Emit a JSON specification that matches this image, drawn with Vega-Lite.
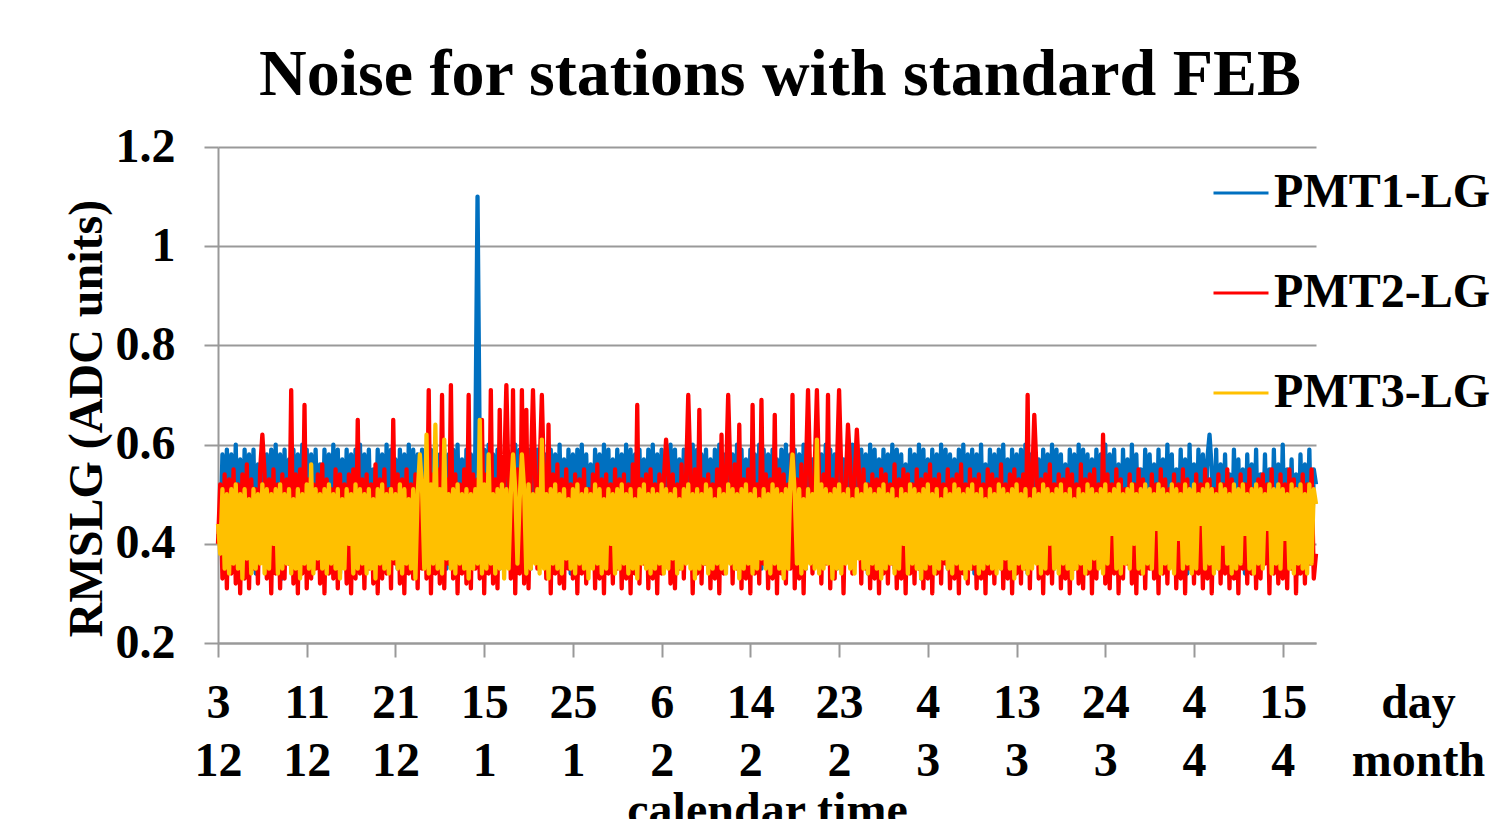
{"$schema":"https://vega.github.io/schema/vega-lite/v6.json","width":1098,"height":496,"autosize":{"type":"none"},"padding":{"left":218,"top":147,"right":193,"bottom":176},"background":"white","config":{"view":{"stroke":null},"font":"Liberation Serif"},
"title":{"text":"Noise for stations with standard FEB","font":"Liberation Serif","fontSize":66,"fontWeight":"bold","color":"black","anchor":"middle","frame":"group","baseline":"alphabetic","offset":50,"dx":13,"dy":88},
"data":{"values":[
{"i":0,"p1":0.42,"p2":0.40,"p3":0.44},{"i":1,"p1":0.40,"p2":0.52,"p3":0.38},{"i":2,"p1":0.58,"p2":0.33,"p3":0.51},{"i":3,"p1":0.36,"p2":0.54,"p3":0.35},{"i":4,"p1":0.59,"p2":0.31,"p3":0.50},{"i":5,"p1":0.39,"p2":0.53,"p3":0.34},{"i":6,"p1":0.58,"p2":0.34,"p3":0.51},{"i":7,"p1":0.37,"p2":0.55,"p3":0.36},{"i":8,"p1":0.60,"p2":0.32,"p3":0.52},{"i":9,"p1":0.35,"p2":0.52,"p3":0.35},
{"i":10,"p1":0.57,"p2":0.30,"p3":0.50},{"i":11,"p1":0.38,"p2":0.54,"p3":0.33},{"i":12,"p1":0.59,"p2":0.33,"p3":0.51},{"i":13,"p1":0.41,"p2":0.56,"p3":0.37},{"i":14,"p1":0.58,"p2":0.31,"p3":0.49},{"i":15,"p1":0.37,"p2":0.53,"p3":0.34},{"i":16,"p1":0.59,"p2":0.35,"p3":0.51},{"i":17,"p1":0.34,"p2":0.51,"p3":0.35},{"i":18,"p1":0.56,"p2":0.32,"p3":0.50},{"i":19,"p1":0.38,"p2":0.55,"p3":0.36},
{"i":20,"p1":0.59,"p2":0.62,"p3":0.52},{"i":21,"p1":0.40,"p2":0.54,"p3":0.34},{"i":22,"p1":0.58,"p2":0.33,"p3":0.51},{"i":23,"p1":0.36,"p2":0.53,"p3":0.35},{"i":24,"p1":0.59,"p2":0.30,"p3":0.50},{"i":25,"p1":0.39,"p2":0.55,"p3":0.40},{"i":26,"p1":0.60,"p2":0.34,"p3":0.51},{"i":27,"p1":0.37,"p2":0.52,"p3":0.34},{"i":28,"p1":0.58,"p2":0.31,"p3":0.52},{"i":29,"p1":0.33,"p2":0.54,"p3":0.35},
{"i":30,"p1":0.59,"p2":0.33,"p3":0.50},{"i":31,"p1":0.38,"p2":0.53,"p3":0.36},{"i":32,"p1":0.57,"p2":0.36,"p3":0.51},{"i":33,"p1":0.40,"p2":0.71,"p3":0.34},{"i":34,"p1":0.59,"p2":0.32,"p3":0.49},{"i":35,"p1":0.36,"p2":0.54,"p3":0.35},{"i":36,"p1":0.58,"p2":0.30,"p3":0.51},{"i":37,"p1":0.39,"p2":0.55,"p3":0.33},{"i":38,"p1":0.60,"p2":0.34,"p3":0.50},{"i":39,"p1":0.37,"p2":0.68,"p3":0.36},
{"i":40,"p1":0.59,"p2":0.31,"p3":0.52},{"i":41,"p1":0.38,"p2":0.53,"p3":0.35},{"i":42,"p1":0.58,"p2":0.33,"p3":0.56},{"i":43,"p1":0.35,"p2":0.52,"p3":0.34},{"i":44,"p1":0.59,"p2":0.35,"p3":0.51},{"i":45,"p1":0.41,"p2":0.54,"p3":0.37},{"i":46,"p1":0.56,"p2":0.32,"p3":0.50},{"i":47,"p1":0.37,"p2":0.56,"p3":0.35},{"i":48,"p1":0.59,"p2":0.30,"p3":0.51},{"i":49,"p1":0.39,"p2":0.53,"p3":0.34},
{"i":50,"p1":0.58,"p2":0.34,"p3":0.52},{"i":51,"p1":0.36,"p2":0.51,"p3":0.36},{"i":52,"p1":0.60,"p2":0.33,"p3":0.50},{"i":53,"p1":0.38,"p2":0.55,"p3":0.35},{"i":54,"p1":0.59,"p2":0.31,"p3":0.51},{"i":55,"p1":0.34,"p2":0.54,"p3":0.33},{"i":56,"p1":0.57,"p2":0.36,"p3":0.49},{"i":57,"p1":0.40,"p2":0.52,"p3":0.35},{"i":58,"p1":0.59,"p2":0.32,"p3":0.51},{"i":59,"p1":0.37,"p2":0.54,"p3":0.40},
{"i":60,"p1":0.58,"p2":0.30,"p3":0.50},{"i":61,"p1":0.39,"p2":0.55,"p3":0.34},{"i":62,"p1":0.59,"p2":0.33,"p3":0.52},{"i":63,"p1":0.36,"p2":0.65,"p3":0.35},{"i":64,"p1":0.60,"p2":0.34,"p3":0.51},{"i":65,"p1":0.38,"p2":0.53,"p3":0.36},{"i":66,"p1":0.58,"p2":0.31,"p3":0.50},{"i":67,"p1":0.35,"p2":0.54,"p3":0.34},{"i":68,"p1":0.59,"p2":0.35,"p3":0.51},{"i":69,"p1":0.41,"p2":0.52,"p3":0.35},
{"i":70,"p1":0.55,"p2":0.32,"p3":0.49},{"i":71,"p1":0.37,"p2":0.56,"p3":0.33},{"i":72,"p1":0.59,"p2":0.30,"p3":0.51},{"i":73,"p1":0.39,"p2":0.53,"p3":0.36},{"i":74,"p1":0.58,"p2":0.33,"p3":0.52},{"i":75,"p1":0.36,"p2":0.55,"p3":0.35},{"i":76,"p1":0.60,"p2":0.34,"p3":0.50},{"i":77,"p1":0.38,"p2":0.51,"p3":0.34},{"i":78,"p1":0.59,"p2":0.31,"p3":0.51},{"i":79,"p1":0.40,"p2":0.65,"p3":0.37},
{"i":80,"p1":0.57,"p2":0.36,"p3":0.50},{"i":81,"p1":0.35,"p2":0.54,"p3":0.35},{"i":82,"p1":0.59,"p2":0.32,"p3":0.52},{"i":83,"p1":0.38,"p2":0.53,"p3":0.34},{"i":84,"p1":0.58,"p2":0.30,"p3":0.51},{"i":85,"p1":0.37,"p2":0.55,"p3":0.36},{"i":86,"p1":0.60,"p2":0.34,"p3":0.49},{"i":87,"p1":0.39,"p2":0.52,"p3":0.35},{"i":88,"p1":0.59,"p2":0.33,"p3":0.51},{"i":89,"p1":0.34,"p2":0.54,"p3":0.33},
{"i":90,"p1":0.58,"p2":0.31,"p3":0.50},{"i":91,"p1":0.38,"p2":0.56,"p3":0.58},{"i":92,"p1":0.59,"p2":0.35,"p3":0.51},{"i":93,"p1":0.40,"p2":0.53,"p3":0.35},{"i":94,"p1":0.57,"p2":0.33,"p3":0.62},{"i":95,"p1":0.37,"p2":0.71,"p3":0.34},{"i":96,"p1":0.59,"p2":0.30,"p3":0.52},{"i":97,"p1":0.36,"p2":0.54,"p3":0.36},{"i":98,"p1":0.60,"p2":0.34,"p3":0.64},{"i":99,"p1":0.39,"p2":0.55,"p3":0.35},
{"i":100,"p1":0.58,"p2":0.32,"p3":0.51},{"i":101,"p1":0.38,"p2":0.70,"p3":0.34},{"i":102,"p1":0.59,"p2":0.31,"p3":0.61},{"i":103,"p1":0.35,"p2":0.53,"p3":0.37},{"i":104,"p1":0.58,"p2":0.36,"p3":0.50},{"i":105,"p1":0.40,"p2":0.72,"p3":0.35},{"i":106,"p1":0.59,"p2":0.33,"p3":0.51},{"i":107,"p1":0.37,"p2":0.54,"p3":0.34},{"i":108,"p1":0.60,"p2":0.30,"p3":0.52},{"i":109,"p1":0.38,"p2":0.52,"p3":0.36},
{"i":110,"p1":0.57,"p2":0.34,"p3":0.50},{"i":111,"p1":0.36,"p2":0.55,"p3":0.35},{"i":112,"p1":0.59,"p2":0.32,"p3":0.51},{"i":113,"p1":0.39,"p2":0.70,"p3":0.33},{"i":114,"p1":0.58,"p2":0.31,"p3":0.50},{"i":115,"p1":0.37,"p2":0.54,"p3":0.35},{"i":116,"p1":0.59,"p2":0.35,"p3":0.51},{"i":117,"p1":1.10,"p2":0.53,"p3":0.36},{"i":118,"p1":0.58,"p2":0.33,"p3":0.65},{"i":119,"p1":0.38,"p2":0.65,"p3":0.34},
{"i":120,"p1":0.59,"p2":0.30,"p3":0.52},{"i":121,"p1":0.36,"p2":0.54,"p3":0.35},{"i":122,"p1":0.60,"p2":0.34,"p3":0.58},{"i":123,"p1":0.39,"p2":0.71,"p3":0.36},{"i":124,"p1":0.58,"p2":0.32,"p3":0.50},{"i":125,"p1":0.37,"p2":0.53,"p3":0.34},{"i":126,"p1":0.59,"p2":0.31,"p3":0.51},{"i":127,"p1":0.35,"p2":0.67,"p3":0.35},{"i":128,"p1":0.57,"p2":0.36,"p3":0.52},{"i":129,"p1":0.40,"p2":0.54,"p3":0.33},
{"i":130,"p1":0.59,"p2":0.72,"p3":0.51},{"i":131,"p1":0.38,"p2":0.52,"p3":0.35},{"i":132,"p1":0.58,"p2":0.33,"p3":0.50},{"i":133,"p1":0.36,"p2":0.71,"p3":0.58},{"i":134,"p1":0.60,"p2":0.30,"p3":0.51},{"i":135,"p1":0.39,"p2":0.55,"p3":0.36},{"i":136,"p1":0.59,"p2":0.34,"p3":0.49},{"i":137,"p1":0.37,"p2":0.71,"p3":0.58},{"i":138,"p1":0.58,"p2":0.32,"p3":0.51},{"i":139,"p1":0.38,"p2":0.67,"p3":0.34},
{"i":140,"p1":0.59,"p2":0.31,"p3":0.52},{"i":141,"p1":0.35,"p2":0.54,"p3":0.35},{"i":142,"p1":0.57,"p2":0.71,"p3":0.50},{"i":143,"p1":0.40,"p2":0.53,"p3":0.36},{"i":144,"p1":0.59,"p2":0.35,"p3":0.51},{"i":145,"p1":0.37,"p2":0.55,"p3":0.34},{"i":146,"p1":0.60,"p2":0.70,"p3":0.61},{"i":147,"p1":0.36,"p2":0.52,"p3":0.35},{"i":148,"p1":0.58,"p2":0.33,"p3":0.50},{"i":149,"p1":0.39,"p2":0.64,"p3":0.33},
{"i":150,"p1":0.59,"p2":0.30,"p3":0.51},{"i":151,"p1":0.38,"p2":0.54,"p3":0.36},{"i":152,"p1":0.58,"p2":0.34,"p3":0.52},{"i":153,"p1":0.36,"p2":0.56,"p3":0.35},{"i":154,"p1":0.60,"p2":0.32,"p3":0.50},{"i":155,"p1":0.39,"p2":0.53,"p3":0.34},{"i":156,"p1":0.57,"p2":0.31,"p3":0.51},{"i":157,"p1":0.37,"p2":0.55,"p3":0.37},{"i":158,"p1":0.59,"p2":0.35,"p3":0.49},{"i":159,"p1":0.34,"p2":0.52,"p3":0.35},
{"i":160,"p1":0.58,"p2":0.33,"p3":0.51},{"i":161,"p1":0.40,"p2":0.54,"p3":0.34},{"i":162,"p1":0.59,"p2":0.30,"p3":0.52},{"i":163,"p1":0.38,"p2":0.53,"p3":0.36},{"i":164,"p1":0.60,"p2":0.34,"p3":0.50},{"i":165,"p1":0.36,"p2":0.55,"p3":0.35},{"i":166,"p1":0.58,"p2":0.32,"p3":0.51},{"i":167,"p1":0.39,"p2":0.51,"p3":0.33},{"i":168,"p1":0.56,"p2":0.36,"p3":0.50},{"i":169,"p1":0.37,"p2":0.54,"p3":0.35},
{"i":170,"p1":0.59,"p2":0.31,"p3":0.52},{"i":171,"p1":0.38,"p2":0.56,"p3":0.36},{"i":172,"p1":0.58,"p2":0.33,"p3":0.51},{"i":173,"p1":0.35,"p2":0.53,"p3":0.34},{"i":174,"p1":0.60,"p2":0.30,"p3":0.49},{"i":175,"p1":0.40,"p2":0.54,"p3":0.35},{"i":176,"p1":0.59,"p2":0.34,"p3":0.51},{"i":177,"p1":0.37,"p2":0.52,"p3":0.40},{"i":178,"p1":0.57,"p2":0.32,"p3":0.50},{"i":179,"p1":0.39,"p2":0.55,"p3":0.34},
{"i":180,"p1":0.59,"p2":0.35,"p3":0.51},{"i":181,"p1":0.36,"p2":0.53,"p3":0.35},{"i":182,"p1":0.58,"p2":0.31,"p3":0.52},{"i":183,"p1":0.38,"p2":0.54,"p3":0.36},{"i":184,"p1":0.60,"p2":0.33,"p3":0.50},{"i":185,"p1":0.34,"p2":0.52,"p3":0.34},{"i":186,"p1":0.59,"p2":0.30,"p3":0.51},{"i":187,"p1":0.39,"p2":0.56,"p3":0.35},{"i":188,"p1":0.58,"p2":0.34,"p3":0.49},{"i":189,"p1":0.37,"p2":0.68,"p3":0.33},
{"i":190,"p1":0.59,"p2":0.32,"p3":0.51},{"i":191,"p1":0.40,"p2":0.53,"p3":0.36},{"i":192,"p1":0.57,"p2":0.36,"p3":0.52},{"i":193,"p1":0.38,"p2":0.54,"p3":0.35},{"i":194,"p1":0.59,"p2":0.31,"p3":0.50},{"i":195,"p1":0.36,"p2":0.55,"p3":0.34},{"i":196,"p1":0.60,"p2":0.33,"p3":0.51},{"i":197,"p1":0.39,"p2":0.52,"p3":0.35},{"i":198,"p1":0.58,"p2":0.30,"p3":0.50},{"i":199,"p1":0.37,"p2":0.54,"p3":0.36},
{"i":200,"p1":0.59,"p2":0.34,"p3":0.52},{"i":201,"p1":0.35,"p2":0.53,"p3":0.34},{"i":202,"p1":0.58,"p2":0.61,"p3":0.51},{"i":203,"p1":0.38,"p2":0.55,"p3":0.35},{"i":204,"p1":0.60,"p2":0.32,"p3":0.50},{"i":205,"p1":0.40,"p2":0.54,"p3":0.37},{"i":206,"p1":0.59,"p2":0.31,"p3":0.51},{"i":207,"p1":0.36,"p2":0.52,"p3":0.34},{"i":208,"p1":0.57,"p2":0.35,"p3":0.49},{"i":209,"p1":0.39,"p2":0.56,"p3":0.35},
{"i":210,"p1":0.59,"p2":0.33,"p3":0.51},{"i":211,"p1":0.37,"p2":0.53,"p3":0.36},{"i":212,"p1":0.58,"p2":0.70,"p3":0.52},{"i":213,"p1":0.38,"p2":0.54,"p3":0.35},{"i":214,"p1":0.60,"p2":0.30,"p3":0.50},{"i":215,"p1":0.34,"p2":0.55,"p3":0.33},{"i":216,"p1":0.59,"p2":0.34,"p3":0.51},{"i":217,"p1":0.39,"p2":0.67,"p3":0.35},{"i":218,"p1":0.58,"p2":0.32,"p3":0.50},{"i":219,"p1":0.36,"p2":0.53,"p3":0.36},
{"i":220,"p1":0.59,"p2":0.36,"p3":0.52},{"i":221,"p1":0.40,"p2":0.54,"p3":0.34},{"i":222,"p1":0.57,"p2":0.31,"p3":0.51},{"i":223,"p1":0.37,"p2":0.52,"p3":0.35},{"i":224,"p1":0.59,"p2":0.33,"p3":0.49},{"i":225,"p1":0.38,"p2":0.55,"p3":0.36},{"i":226,"p1":0.60,"p2":0.30,"p3":0.51},{"i":227,"p1":0.35,"p2":0.62,"p3":0.35},{"i":228,"p1":0.58,"p2":0.34,"p3":0.50},{"i":229,"p1":0.39,"p2":0.53,"p3":0.34},
{"i":230,"p1":0.59,"p2":0.70,"p3":0.52},{"i":231,"p1":0.37,"p2":0.54,"p3":0.36},{"i":232,"p1":0.58,"p2":0.32,"p3":0.51},{"i":233,"p1":0.36,"p2":0.56,"p3":0.35},{"i":234,"p1":0.60,"p2":0.35,"p3":0.50},{"i":235,"p1":0.40,"p2":0.64,"p3":0.33},{"i":236,"p1":0.59,"p2":0.31,"p3":0.51},{"i":237,"p1":0.38,"p2":0.53,"p3":0.35},{"i":238,"p1":0.57,"p2":0.33,"p3":0.52},{"i":239,"p1":0.36,"p2":0.55,"p3":0.36},
{"i":240,"p1":0.59,"p2":0.30,"p3":0.50},{"i":241,"p1":0.39,"p2":0.68,"p3":0.34},{"i":242,"p1":0.58,"p2":0.34,"p3":0.51},{"i":243,"p1":0.37,"p2":0.52,"p3":0.35},{"i":244,"p1":0.60,"p2":0.32,"p3":0.49},{"i":245,"p1":0.35,"p2":0.69,"p3":0.37},{"i":246,"p1":0.59,"p2":0.36,"p3":0.51},{"i":247,"p1":0.38,"p2":0.54,"p3":0.35},{"i":248,"p1":0.58,"p2":0.31,"p3":0.50},{"i":249,"p1":0.40,"p2":0.53,"p3":0.34},
{"i":250,"p1":0.59,"p2":0.33,"p3":0.52},{"i":251,"p1":0.36,"p2":0.66,"p3":0.36},{"i":252,"p1":0.57,"p2":0.30,"p3":0.51},{"i":253,"p1":0.39,"p2":0.55,"p3":0.35},{"i":254,"p1":0.59,"p2":0.34,"p3":0.50},{"i":255,"p1":0.37,"p2":0.54,"p3":0.33},{"i":256,"p1":0.60,"p2":0.32,"p3":0.51},{"i":257,"p1":0.38,"p2":0.52,"p3":0.35},{"i":258,"p1":0.58,"p2":0.35,"p3":0.52},{"i":259,"p1":0.36,"p2":0.70,"p3":0.58},
{"i":260,"p1":0.59,"p2":0.31,"p3":0.50},{"i":261,"p1":0.40,"p2":0.53,"p3":0.36},{"i":262,"p1":0.58,"p2":0.33,"p3":0.51},{"i":263,"p1":0.37,"p2":0.56,"p3":0.34},{"i":264,"p1":0.60,"p2":0.30,"p3":0.49},{"i":265,"p1":0.35,"p2":0.54,"p3":0.35},{"i":266,"p1":0.59,"p2":0.71,"p3":0.51},{"i":267,"p1":0.39,"p2":0.53,"p3":0.36},{"i":268,"p1":0.57,"p2":0.34,"p3":0.50},{"i":269,"p1":0.38,"p2":0.55,"p3":0.35},
{"i":270,"p1":0.59,"p2":0.71,"p3":0.61},{"i":271,"p1":0.36,"p2":0.52,"p3":0.34},{"i":272,"p1":0.58,"p2":0.32,"p3":0.52},{"i":273,"p1":0.40,"p2":0.54,"p3":0.35},{"i":274,"p1":0.60,"p2":0.36,"p3":0.51},{"i":275,"p1":0.37,"p2":0.70,"p3":0.36},{"i":276,"p1":0.59,"p2":0.31,"p3":0.50},{"i":277,"p1":0.38,"p2":0.53,"p3":0.33},{"i":278,"p1":0.58,"p2":0.33,"p3":0.51},{"i":279,"p1":0.35,"p2":0.55,"p3":0.35},
{"i":280,"p1":0.59,"p2":0.71,"p3":0.52},{"i":281,"p1":0.39,"p2":0.54,"p3":0.34},{"i":282,"p1":0.57,"p2":0.30,"p3":0.50},{"i":283,"p1":0.37,"p2":0.52,"p3":0.36},{"i":284,"p1":0.59,"p2":0.64,"p3":0.51},{"i":285,"p1":0.36,"p2":0.56,"p3":0.35},{"i":286,"p1":0.60,"p2":0.34,"p3":0.49},{"i":287,"p1":0.40,"p2":0.53,"p3":0.34},{"i":288,"p1":0.58,"p2":0.63,"p3":0.51},{"i":289,"p1":0.38,"p2":0.54,"p3":0.37},
{"i":290,"p1":0.59,"p2":0.32,"p3":0.50},{"i":291,"p1":0.37,"p2":0.55,"p3":0.35},{"i":292,"p1":0.58,"p2":0.35,"p3":0.52},{"i":293,"p1":0.34,"p2":0.52,"p3":0.34},{"i":294,"p1":0.60,"p2":0.31,"p3":0.51},{"i":295,"p1":0.39,"p2":0.54,"p3":0.36},{"i":296,"p1":0.59,"p2":0.33,"p3":0.50},{"i":297,"p1":0.38,"p2":0.53,"p3":0.35},{"i":298,"p1":0.57,"p2":0.30,"p3":0.51},{"i":299,"p1":0.36,"p2":0.55,"p3":0.33},
{"i":300,"p1":0.59,"p2":0.34,"p3":0.52},{"i":301,"p1":0.40,"p2":0.54,"p3":0.35},{"i":302,"p1":0.58,"p2":0.32,"p3":0.50},{"i":303,"p1":0.37,"p2":0.52,"p3":0.36},{"i":304,"p1":0.60,"p2":0.36,"p3":0.51},{"i":305,"p1":0.35,"p2":0.56,"p3":0.34},{"i":306,"p1":0.59,"p2":0.31,"p3":0.49},{"i":307,"p1":0.39,"p2":0.53,"p3":0.35},{"i":308,"p1":0.58,"p2":0.33,"p3":0.51},{"i":309,"p1":0.38,"p2":0.55,"p3":0.40},
{"i":310,"p1":0.56,"p2":0.30,"p3":0.50},{"i":311,"p1":0.36,"p2":0.54,"p3":0.34},{"i":312,"p1":0.59,"p2":0.34,"p3":0.52},{"i":313,"p1":0.40,"p2":0.52,"p3":0.36},{"i":314,"p1":0.58,"p2":0.32,"p3":0.51},{"i":315,"p1":0.37,"p2":0.55,"p3":0.35},{"i":316,"p1":0.60,"p2":0.35,"p3":0.50},{"i":317,"p1":0.33,"p2":0.53,"p3":0.33},{"i":318,"p1":0.59,"p2":0.31,"p3":0.51},{"i":319,"p1":0.39,"p2":0.54,"p3":0.35},
{"i":320,"p1":0.57,"p2":0.33,"p3":0.52},{"i":321,"p1":0.38,"p2":0.56,"p3":0.36},{"i":322,"p1":0.59,"p2":0.30,"p3":0.50},{"i":323,"p1":0.36,"p2":0.53,"p3":0.34},{"i":324,"p1":0.58,"p2":0.34,"p3":0.51},{"i":325,"p1":0.40,"p2":0.54,"p3":0.35},{"i":326,"p1":0.60,"p2":0.32,"p3":0.49},{"i":327,"p1":0.37,"p2":0.52,"p3":0.37},{"i":328,"p1":0.59,"p2":0.36,"p3":0.51},{"i":329,"p1":0.35,"p2":0.55,"p3":0.35},
{"i":330,"p1":0.58,"p2":0.31,"p3":0.50},{"i":331,"p1":0.39,"p2":0.53,"p3":0.34},{"i":332,"p1":0.57,"p2":0.33,"p3":0.52},{"i":333,"p1":0.38,"p2":0.54,"p3":0.36},{"i":334,"p1":0.59,"p2":0.30,"p3":0.51},{"i":335,"p1":0.36,"p2":0.56,"p3":0.35},{"i":336,"p1":0.60,"p2":0.34,"p3":0.50},{"i":337,"p1":0.40,"p2":0.52,"p3":0.33},{"i":338,"p1":0.58,"p2":0.32,"p3":0.51},{"i":339,"p1":0.37,"p2":0.55,"p3":0.35},
{"i":340,"p1":0.59,"p2":0.35,"p3":0.52},{"i":341,"p1":0.34,"p2":0.53,"p3":0.36},{"i":342,"p1":0.58,"p2":0.31,"p3":0.50},{"i":343,"p1":0.39,"p2":0.54,"p3":0.34},{"i":344,"p1":0.60,"p2":0.33,"p3":0.51},{"i":345,"p1":0.38,"p2":0.52,"p3":0.35},{"i":346,"p1":0.56,"p2":0.30,"p3":0.49},{"i":347,"p1":0.36,"p2":0.55,"p3":0.36},{"i":348,"p1":0.59,"p2":0.34,"p3":0.51},{"i":349,"p1":0.40,"p2":0.54,"p3":0.35},
{"i":350,"p1":0.58,"p2":0.32,"p3":0.50},{"i":351,"p1":0.37,"p2":0.53,"p3":0.34},{"i":352,"p1":0.59,"p2":0.36,"p3":0.52},{"i":353,"p1":0.35,"p2":0.56,"p3":0.35},{"i":354,"p1":0.60,"p2":0.31,"p3":0.51},{"i":355,"p1":0.39,"p2":0.52,"p3":0.37},{"i":356,"p1":0.57,"p2":0.33,"p3":0.50},{"i":357,"p1":0.38,"p2":0.54,"p3":0.35},{"i":358,"p1":0.59,"p2":0.30,"p3":0.51},{"i":359,"p1":0.36,"p2":0.55,"p3":0.33},
{"i":360,"p1":0.58,"p2":0.34,"p3":0.52},{"i":361,"p1":0.40,"p2":0.53,"p3":0.36},{"i":362,"p1":0.59,"p2":0.32,"p3":0.50},{"i":363,"p1":0.37,"p2":0.54,"p3":0.35},{"i":364,"p1":0.60,"p2":0.35,"p3":0.51},{"i":365,"p1":0.34,"p2":0.70,"p3":0.34},{"i":366,"p1":0.58,"p2":0.31,"p3":0.49},{"i":367,"p1":0.39,"p2":0.52,"p3":0.35},{"i":368,"p1":0.59,"p2":0.66,"p3":0.51},{"i":369,"p1":0.38,"p2":0.55,"p3":0.36},
{"i":370,"p1":0.57,"p2":0.33,"p3":0.50},{"i":371,"p1":0.36,"p2":0.53,"p3":0.34},{"i":372,"p1":0.59,"p2":0.30,"p3":0.52},{"i":373,"p1":0.40,"p2":0.54,"p3":0.35},{"i":374,"p1":0.58,"p2":0.34,"p3":0.51},{"i":375,"p1":0.37,"p2":0.56,"p3":0.40},{"i":376,"p1":0.60,"p2":0.32,"p3":0.50},{"i":377,"p1":0.35,"p2":0.52,"p3":0.35},{"i":378,"p1":0.59,"p2":0.36,"p3":0.51},{"i":379,"p1":0.39,"p2":0.54,"p3":0.34},
{"i":380,"p1":0.58,"p2":0.31,"p3":0.52},{"i":381,"p1":0.38,"p2":0.53,"p3":0.36},{"i":382,"p1":0.56,"p2":0.33,"p3":0.50},{"i":383,"p1":0.36,"p2":0.55,"p3":0.35},{"i":384,"p1":0.59,"p2":0.30,"p3":0.51},{"i":385,"p1":0.40,"p2":0.54,"p3":0.33},{"i":386,"p1":0.58,"p2":0.35,"p3":0.49},{"i":387,"p1":0.37,"p2":0.52,"p3":0.35},{"i":388,"p1":0.60,"p2":0.32,"p3":0.51},{"i":389,"p1":0.34,"p2":0.56,"p3":0.36},
{"i":390,"p1":0.59,"p2":0.31,"p3":0.50},{"i":391,"p1":0.39,"p2":0.53,"p3":0.34},{"i":392,"p1":0.58,"p2":0.34,"p3":0.52},{"i":393,"p1":0.38,"p2":0.54,"p3":0.35},{"i":394,"p1":0.57,"p2":0.30,"p3":0.51},{"i":395,"p1":0.36,"p2":0.55,"p3":0.37},{"i":396,"p1":0.59,"p2":0.33,"p3":0.50},{"i":397,"p1":0.40,"p2":0.52,"p3":0.35},{"i":398,"p1":0.58,"p2":0.36,"p3":0.51},{"i":399,"p1":0.37,"p2":0.62,"p3":0.34},
{"i":400,"p1":0.60,"p2":0.32,"p3":0.52},{"i":401,"p1":0.35,"p2":0.54,"p3":0.36},{"i":402,"p1":0.58,"p2":0.31,"p3":0.50},{"i":403,"p1":0.39,"p2":0.52,"p3":0.42},{"i":404,"p1":0.59,"p2":0.34,"p3":0.51},{"i":405,"p1":0.38,"p2":0.55,"p3":0.35},{"i":406,"p1":0.56,"p2":0.30,"p3":0.52},{"i":407,"p1":0.36,"p2":0.53,"p3":0.34},{"i":408,"p1":0.59,"p2":0.33,"p3":0.50},{"i":409,"p1":0.40,"p2":0.51,"p3":0.36},
{"i":410,"p1":0.57,"p2":0.36,"p3":0.51},{"i":411,"p1":0.37,"p2":0.54,"p3":0.35},{"i":412,"p1":0.60,"p2":0.32,"p3":0.52},{"i":413,"p1":0.34,"p2":0.52,"p3":0.40},{"i":414,"p1":0.58,"p2":0.30,"p3":0.50},{"i":415,"p1":0.39,"p2":0.55,"p3":0.35},{"i":416,"p1":0.55,"p2":0.34,"p3":0.51},{"i":417,"p1":0.38,"p2":0.53,"p3":0.34},{"i":418,"p1":0.59,"p2":0.31,"p3":0.52},{"i":419,"p1":0.36,"p2":0.50,"p3":0.36},
{"i":420,"p1":0.58,"p2":0.35,"p3":0.51},{"i":421,"p1":0.40,"p2":0.54,"p3":0.35},{"i":422,"p1":0.56,"p2":0.33,"p3":0.50},{"i":423,"p1":0.37,"p2":0.52,"p3":0.43},{"i":424,"p1":0.59,"p2":0.30,"p3":0.52},{"i":425,"p1":0.35,"p2":0.55,"p3":0.34},{"i":426,"p1":0.57,"p2":0.34,"p3":0.51},{"i":427,"p1":0.39,"p2":0.53,"p3":0.36},{"i":428,"p1":0.60,"p2":0.32,"p3":0.50},{"i":429,"p1":0.38,"p2":0.51,"p3":0.35},
{"i":430,"p1":0.58,"p2":0.36,"p3":0.52},{"i":431,"p1":0.36,"p2":0.54,"p3":0.34},{"i":432,"p1":0.55,"p2":0.31,"p3":0.51},{"i":433,"p1":0.40,"p2":0.52,"p3":0.41},{"i":434,"p1":0.59,"p2":0.33,"p3":0.50},{"i":435,"p1":0.37,"p2":0.55,"p3":0.35},{"i":436,"p1":0.57,"p2":0.30,"p3":0.52},{"i":437,"p1":0.34,"p2":0.53,"p3":0.36},{"i":438,"p1":0.60,"p2":0.35,"p3":0.51},{"i":439,"p1":0.39,"p2":0.50,"p3":0.34},
{"i":440,"p1":0.56,"p2":0.32,"p3":0.52},{"i":441,"p1":0.38,"p2":0.54,"p3":0.35},{"i":442,"p1":0.59,"p2":0.34,"p3":0.50},{"i":443,"p1":0.36,"p2":0.52,"p3":0.44},{"i":444,"p1":0.58,"p2":0.31,"p3":0.51},{"i":445,"p1":0.40,"p2":0.55,"p3":0.35},{"i":446,"p1":0.57,"p2":0.33,"p3":0.52},{"i":447,"p1":0.62,"p2":0.53,"p3":0.36},{"i":448,"p1":0.55,"p2":0.30,"p3":0.51},{"i":449,"p1":0.37,"p2":0.51,"p3":0.34},
{"i":450,"p1":0.59,"p2":0.36,"p3":0.50},{"i":451,"p1":0.35,"p2":0.54,"p3":0.35},{"i":452,"p1":0.56,"p2":0.32,"p3":0.52},{"i":453,"p1":0.39,"p2":0.52,"p3":0.40},{"i":454,"p1":0.58,"p2":0.34,"p3":0.51},{"i":455,"p1":0.38,"p2":0.55,"p3":0.36},{"i":456,"p1":0.54,"p2":0.31,"p3":0.50},{"i":457,"p1":0.36,"p2":0.53,"p3":0.34},{"i":458,"p1":0.59,"p2":0.33,"p3":0.52},{"i":459,"p1":0.40,"p2":0.50,"p3":0.35},
{"i":460,"p1":0.57,"p2":0.30,"p3":0.51},{"i":461,"p1":0.37,"p2":0.54,"p3":0.36},{"i":462,"p1":0.55,"p2":0.35,"p3":0.52},{"i":463,"p1":0.34,"p2":0.52,"p3":0.42},{"i":464,"p1":0.58,"p2":0.32,"p3":0.50},{"i":465,"p1":0.39,"p2":0.55,"p3":0.35},{"i":466,"p1":0.56,"p2":0.34,"p3":0.51},{"i":467,"p1":0.38,"p2":0.51,"p3":0.34},{"i":468,"p1":0.59,"p2":0.31,"p3":0.52},{"i":469,"p1":0.36,"p2":0.53,"p3":0.36},
{"i":470,"p1":0.54,"p2":0.33,"p3":0.51},{"i":471,"p1":0.40,"p2":0.54,"p3":0.35},{"i":472,"p1":0.58,"p2":0.36,"p3":0.50},{"i":473,"p1":0.37,"p2":0.52,"p3":0.43},{"i":474,"p1":0.55,"p2":0.30,"p3":0.52},{"i":475,"p1":0.35,"p2":0.55,"p3":0.34},{"i":476,"p1":0.59,"p2":0.34,"p3":0.51},{"i":477,"p1":0.39,"p2":0.50,"p3":0.36},{"i":478,"p1":0.56,"p2":0.32,"p3":0.52},{"i":479,"p1":0.38,"p2":0.54,"p3":0.35},
{"i":480,"p1":0.60,"p2":0.33,"p3":0.51},{"i":481,"p1":0.36,"p2":0.52,"p3":0.41},{"i":482,"p1":0.55,"p2":0.31,"p3":0.50},{"i":483,"p1":0.40,"p2":0.55,"p3":0.35},{"i":484,"p1":0.57,"p2":0.35,"p3":0.52},{"i":485,"p1":0.37,"p2":0.53,"p3":0.34},{"i":486,"p1":0.54,"p2":0.30,"p3":0.51},{"i":487,"p1":0.34,"p2":0.51,"p3":0.36},{"i":488,"p1":0.58,"p2":0.34,"p3":0.52},{"i":489,"p1":0.39,"p2":0.54,"p3":0.35},
{"i":490,"p1":0.56,"p2":0.32,"p3":0.50},{"i":491,"p1":0.38,"p2":0.52,"p3":0.34},{"i":492,"p1":0.59,"p2":0.36,"p3":0.52},{"i":493,"p1":0.36,"p2":0.55,"p3":0.36},{"i":494,"p1":0.55,"p2":0.33,"p3":0.51},{"i":495,"p1":0.52,"p2":0.38,"p3":0.48}
]},
"layer":[
{"transform":[{"fold":["p1","p2","p3"],"as":["key","value"]}],
"mark":{"type":"line","strokeWidth":4.3,"strokeJoin":"round"},
"encoding":{
"x":{"field":"i","type":"quantitative","scale":{"domain":[0,495],"nice":false,"zero":false},
"axis":{"values":[0,40,80,120,160,200,240,280,320,360,400,440,480],"grid":false,"domainColor":"#999999","domainWidth":2,"tickColor":"#999999","tickWidth":2,"tickSize":14,"labelFont":"Liberation Serif","labelFontSize":48,"labelFontWeight":"bold","labelColor":"black","labelExpr":"[['3','12'],['11','12'],['21','12'],['15','1'],['25','1'],['6','2'],['14','2'],['23','2'],['4','3'],['13','3'],['24','3'],['4','4'],['15','4']][round(datum.value/40)]","labelLineHeight":58,"labelPadding":60,"labelBaseline":"alphabetic","labelFlush":false,"labelOverlap":false,"title":"calendar time","titleFont":"Liberation Serif","titleFontSize":48,"titleFontWeight":"bold","titleColor":"black","titleBaseline":"alphabetic","titleX":549,"titleY":182,"titleAlign":"center"}},
"y":{"field":"value","type":"quantitative","scale":{"domain":[0.2,1.2],"nice":false,"zero":false},
"axis":{"values":[0.2,0.4,0.6,0.8,1,1.2],"format":"~g","grid":true,"gridColor":"#999999","gridWidth":2,"domainColor":"#999999","domainWidth":2,"tickColor":"#999999","tickWidth":2,"tickSize":14,"labelFont":"Liberation Serif","labelFontSize":48,"labelFontWeight":"bold","labelColor":"black","labelPadding":29,"labelFlush":false,"labelOverlap":false,"title":"RMSLG (ADC units)","titleFont":"Liberation Serif","titleFontSize":48,"titleFontWeight":"bold","titleColor":"black","titleAngle":270,"titleX":-117,"titleY":271,"titleAlign":"center","titleBaseline":"alphabetic"}},
"color":{"field":"key","type":"nominal","scale":{"domain":["p1","p2","p3"],"range":["#0070C0","#FF0000","#FFC000"]},
"legend":{"title":null,"orient":"none","legendX":994,"legendY":17,"padding":0,"symbolType":"stroke","symbolSize":3025,"symbolStrokeWidth":3,"labelFont":"Liberation Serif","labelFontSize":48,"labelFontWeight":"bold","labelColor":"black","labelOffset":4,"rowPadding":47,"labelLimit":400,"labelExpr":"datum.label == 'p1' ? 'PMT1-LG' : datum.label == 'p2' ? 'PMT2-LG' : 'PMT3-LG'"}}
}},
{"data":{"values":[{"v":0.2}]},"mark":{"type":"rule","opacity":0},
"encoding":{"y":{"field":"v","type":"quantitative","axis":{"orient":"right","labels":false,"ticks":false,"domain":false,"grid":false,"title":["day","month"],"titleFont":"Liberation Serif","titleFontSize":48,"titleFontWeight":"bold","titleColor":"black","titleAngle":0,"titleX":102,"titleY":570,"titleAlign":"center","titleBaseline":"alphabetic","titleLineHeight":58}}}}
],
"resolve":{"axis":{"y":"independent"}}
}
